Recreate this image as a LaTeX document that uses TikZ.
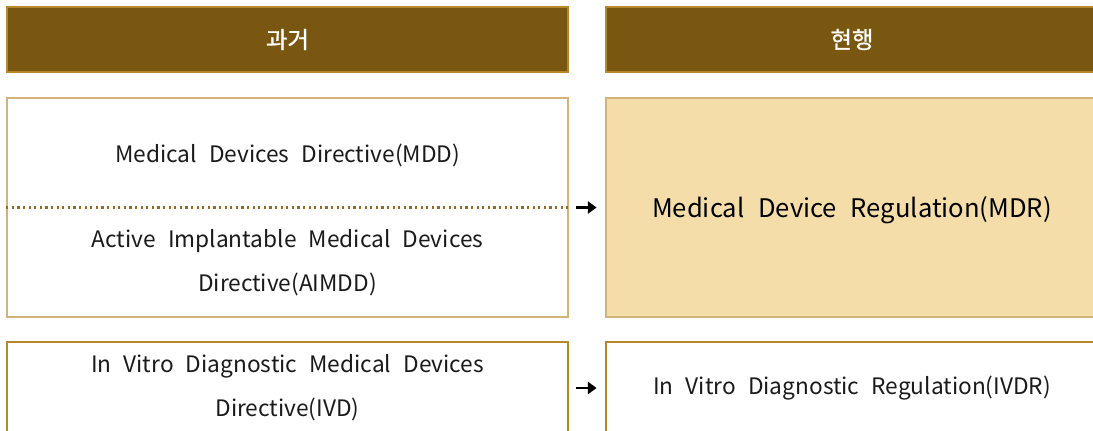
\documentclass[tikz,border=0pt]{standalone}
\usepackage{fontspec}
\setmainfont[WordSpace=2.4]{Noto Sans CJK KR}
\newfontfamily\headfont[FakeBold=1.2]{Noto Sans CJK KR}
\usepackage{xcolor}
\definecolor{bark}{HTML}{7A5710}
\definecolor{gold}{HTML}{B8862B}
\definecolor{sand}{HTML}{D2B47A}
\definecolor{wheat}{HTML}{F5DDAA}
\definecolor{ink}{HTML}{1A1A1A}
\usetikzlibrary{arrows.meta,positioning}

\tikzset{
  head/.style={fill=bark, draw=gold, line width=1.5pt, text=white,
    font=\headfont\fontsize{17.5}{20}\selectfont, inner sep=0pt},
  box/.style={draw=sand, line width=1.1pt, inner sep=0pt},
  txt/.style={text=ink, align=center, font=\fontsize{17}{33}\selectfont},
  becomes/.style={-{Triangle[length=6.5pt,width=9pt]}, line width=1.8pt,
    shorten <=5.2pt, shorten >=6.5pt}
}

\begin{document}
\begin{tikzpicture}[x=0.75pt, y=-0.75pt]
  \useasboundingbox (0,0) rectangle (1093,430);

  % column headers
  \node[head, minimum width=561*0.75pt, minimum height=65*0.75pt] (past) at (287.5,39.5) {과거};
  \node[head, minimum width=492*0.75pt, minimum height=65*0.75pt] (now) at (852,39.5) {현행};

  % directives -> regulation
  \node[box, minimum width=561*0.75pt, minimum height=219*0.75pt] (old) at (287.5,207.5) {};
  \node[box, fill=wheat, minimum width=492*0.75pt, minimum height=219*0.75pt] (mdr) at (852,207.5) {};
  \draw[gold!80!black, line width=1.6pt, dash pattern=on 1.6pt off 2.6pt] (old.west) -- (old.east);
  \node[txt] (mdd) at (287.5,155) {Medical Devices Directive(MDD)};
  \node[txt] (aimdd) at (287.5,263) {Active Implantable Medical Devices\\Directive(AIMDD)};
  \node[txt, font=\fontsize{19.2}{22}\selectfont, text=black] (mdrtext) at (852,210) {Medical Device Regulation(MDR)};
  \draw[becomes] (old.east) -- (mdr.west);

  % in vitro diagnostics
  \node[box, draw=gold, minimum width=561*0.75pt, minimum height=92*0.75pt] (ivd) at (287.5,388) {};
  \node[box, draw=gold, minimum width=492*0.75pt, minimum height=92*0.75pt] (ivdr) at (852,388) {};
  \node[txt] (ivdtext) at (287.5,388) {In Vitro Diagnostic Medical Devices\\Directive(IVD)};
  \node[txt] (ivdrtext) at (ivdr.center) {In Vitro Diagnostic Regulation(IVDR)};
  \draw[becomes] (ivd.east) -- (ivdr.west);
\end{tikzpicture}
\end{document}
